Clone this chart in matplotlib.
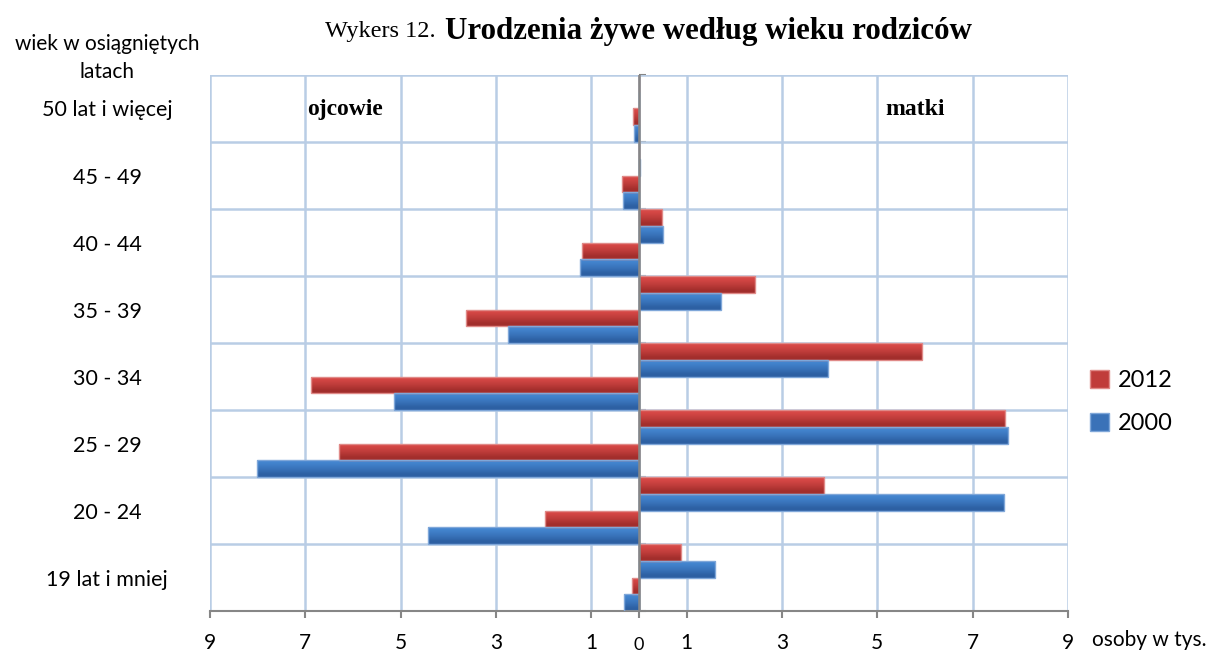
import matplotlib
matplotlib.use("Agg")
import matplotlib.pyplot as plt
import numpy as np
from matplotlib.colors import LinearSegmentedColormap

# age groups, bottom to top
ages = ["19 lat i mniej", "20 - 24", "25 - 29", "30 - 34", "35 - 39",
        "40 - 44", "45 - 49", "50 lat i więcej"]
# thousands of births
fathers_2012 = [0.15, 1.97, 6.30, 6.89, 3.63, 1.19, 0.36, 0.13]
fathers_2000 = [0.31, 4.43, 8.02, 5.13, 2.75, 1.24, 0.34, 0.10]
mothers_2012 = [0.88, 3.89, 7.67, 5.94, 2.44, 0.48, 0.01, 0.005]
mothers_2000 = [1.60, 7.65, 7.75, 3.97, 1.72, 0.50, 0.03, 0.003]
xtick_vals = [-9, -7, -5, -3, -1, 0, 1, 3, 5, 7, 9]

sans = "Lato"
serif = "Liberation Serif"
grid_col = "#B9CDE5"
axis_col = "#868686"
red_top, red_bot, red_edge = "#D64846", "#A22E2C", "#E08A88"
blue_top, blue_bot, blue_edge = "#4384CE", "#2D60A3", "#7FA7D9"

fig = plt.figure(figsize=(12.13, 6.51), dpi=100)
ax = fig.add_axes([0.1731, 0.0614, 0.7073, 0.8234])

y = np.arange(len(ages))
h = 0.25
bars = []
bars.append((ax.barh(y + 0.375, mothers_2012, height=h), red_top, red_bot, red_edge))
bars.append((ax.barh(y + 0.125, mothers_2000, height=h), blue_top, blue_bot, blue_edge))
bars.append((ax.barh(y - 0.125, -np.array(fathers_2012), height=h), red_top, red_bot, red_edge))
bars.append((ax.barh(y - 0.375, -np.array(fathers_2000), height=h), blue_top, blue_bot, blue_edge))

# shaded look like the original
for cont, top, bot, edge in bars:
    cmap = LinearSegmentedColormap.from_list("g", [bot, top])
    for p in cont.patches:
        p.set_facecolor("none")
        p.set_edgecolor(edge)
        p.set_linewidth(1)
        p.set_zorder(3)
        x0, w = p.get_x(), p.get_width()
        y0, hh = p.get_y(), p.get_height()
        im = ax.imshow([[0.0], [0.55], [1.0]], cmap=cmap, aspect="auto",
                       origin="lower", interpolation="bilinear",
                       extent=(min(x0, x0 + w), max(x0, x0 + w), y0, y0 + hh),
                       zorder=2)
        im.set_clip_path(p)

ax.set_xlim(-9, 9)
ax.set_ylim(-0.5, len(ages) - 0.5)

# grid
ax.set_xticks(xtick_vals)
ax.set_xticklabels([str(abs(v)) if v != 0 else "" for v in xtick_vals],
                   fontfamily=sans, fontsize=15)
ax.tick_params(axis="x", length=5, color=axis_col, width=1.5, pad=11)
ax.set_yticks(y)
ax.set_yticklabels(ages, fontfamily=sans, fontsize=15.5)
ax.tick_params(axis="y", length=0, pad=74)
for lbl in ax.get_yticklabels():
    lbl.set_ha("center")
ax.set_yticks(np.arange(-0.5, len(ages)), minor=True)
ax.tick_params(axis="y", which="minor", length=0)
ax.grid(axis="x", which="major", color=grid_col, linewidth=1.8, zorder=0)
ax.grid(axis="y", which="minor", color=grid_col, linewidth=1.8, zorder=0)
ax.set_axisbelow(True)
for s in ["top", "left", "right"]:
    ax.spines[s].set_visible(False)
ax.spines["bottom"].set_color(axis_col)
ax.spines["bottom"].set_linewidth(1.5)

# central axis with ticks at band boundaries
sec = ax.secondary_yaxis(0.5)
sec.set_yticks(np.arange(-0.5, len(ages)))
sec.set_yticklabels([])
sec.tick_params(length=5, color=axis_col, width=1.5, direction="out")
sec.spines["left"].set_visible(False)
ax.axvline(0, color=axis_col, linewidth=1.8, zorder=5)

# zero label sits a little lower
ax.text(0, -0.063, "0", transform=ax.get_xaxis_transform(), ha="center",
        va="center", fontfamily=sans, fontsize=13)

ax.text(0.157, 0.935, "ojcowie", transform=ax.transAxes, ha="center", va="center",
        fontfamily=serif, fontweight="bold", fontsize=17)
ax.text(0.822, 0.935, "matki", transform=ax.transAxes, ha="center", va="center",
        fontfamily=serif, fontweight="bold", fontsize=17)

fig.text(436 / 1213, 1 - 32 / 651, "Wykers 12.", ha="right", va="center",
         fontfamily=serif, fontsize=17.5)
fig.text(445 / 1213, 1 - 32 / 651, "Urodzenia żywe według wieku rodziców",
         ha="left", va="center", fontfamily=serif, fontweight="bold", fontsize=22.3)

fig.text(107 / 1213, 1 - 58 / 651, "wiek w osiągniętych\nlatach", ha="center",
         va="center", fontfamily=sans, fontsize=15, linespacing=1.45)
fig.text(1092 / 1213, 1 - 640 / 651, "osoby w tys.", ha="left", va="center",
         fontfamily=sans, fontsize=15)

handles = [plt.Rectangle((0, 0), 1, 1, facecolor="#C03C3A", edgecolor=red_edge),
           plt.Rectangle((0, 0), 1, 1, facecolor="#3A72B8", edgecolor=blue_edge)]
fig.legend(handles, ["2012", "2000"], loc="center left",
           bbox_to_anchor=(1069 / 1213, 1 - 402 / 651), frameon=False,
           prop={"family": sans, "size": 17}, handlelength=0.8, handleheight=0.8,
           handletextpad=0.35, labelspacing=0.9)

fig.savefig("out.png", dpi=100)
